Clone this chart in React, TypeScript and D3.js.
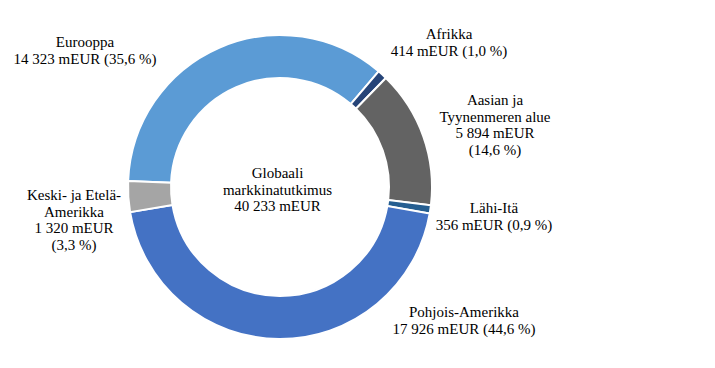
import React from "react";
import * as d3 from "d3";

const categories = [
  "Eurooppa",
  "Afrikka",
  "Aasian ja\nTyynenmeren alue",
  "Lähi-Itä",
  "Pohjois-Amerikka",
  "Keski- ja Etelä-\nAmerikka",
];
const values = [14323, 414, 5894, 356, 17926, 1320];
const colors = ["#5B9BD5", "#264478", "#636363", "#255E91", "#4472C4", "#A5A5A5"];
// whether value and percentage go on separate lines
const splitValue = [false, false, true, false, false, true];
const centerTitle = ["Globaali", "markkinatutkimus"];

// label anchor positions (layout)
const labelAnchors: [number, number][] = [
  [85, 47],
  [449, 39],
  [495, 105],
  [494, 213],
  [464, 317],
  [74, 200],
];

const W = 715;
const H = 368;
const cx = 280;
const cy = 187;
const outerR = 152;
const innerR = 109;
const lineH = 16.6;

const locale = d3.formatLocale({
  decimal: ",",
  thousands: "\u00a0",
  grouping: [3],
  currency: ["", " €"],
});
const fmtInt = locale.format(",d");
const fmtPct = locale.format(".1f");

export default function App() {
  const total = d3.sum(values);
  const pie = d3
    .pie<number>()
    .sort(null)
    .value((d) => d)
    .startAngle(-Math.PI / 2 + 0.04)
    .endAngle((3 * Math.PI) / 2 + 0.04);
  const arcs = pie(values);
  const arc = d3.arc<d3.PieArcDatum<number>>().innerRadius(innerR).outerRadius(outerR);

  return (
    <svg width={W} height={H} style={{ position: "absolute", left: 0, top: 0 }}>
      <rect width={W} height={H} fill="#fff" />
      <g transform={`translate(${cx},${cy})`}>
        {arcs.map((a, i) => (
          <path key={i} d={arc(a) || ""} fill={colors[i]} stroke="#fff" strokeWidth={2} />
        ))}
      </g>
      <g fontFamily="'Liberation Serif', 'Times New Roman', serif" fontSize={15} fill="#000" textAnchor="middle">
        {categories.map((c, i) => {
          const valTxt = `${fmtInt(values[i])} mEUR`;
          const pctTxt = `(${fmtPct((values[i] / total) * 100)}\u00a0%)`;
          const lines = [...c.split("\n")];
          if (splitValue[i]) lines.push(valTxt, pctTxt);
          else lines.push(`${valTxt} ${pctTxt}`);
          const [x, y] = labelAnchors[i];
          return (
            <text key={i} x={x} y={y}>
              {lines.map((l, j) => (
                <tspan key={j} x={x} y={y + j * lineH}>
                  {l}
                </tspan>
              ))}
            </text>
          );
        })}
        <text x={277.5} y={178}>
          {[...centerTitle, `${fmtInt(total)} mEUR`].map((l, j) => (
            <tspan key={j} x={277.5} y={178 + j * lineH}>
              {l}
            </tspan>
          ))}
        </text>
      </g>
    </svg>
  );
}
